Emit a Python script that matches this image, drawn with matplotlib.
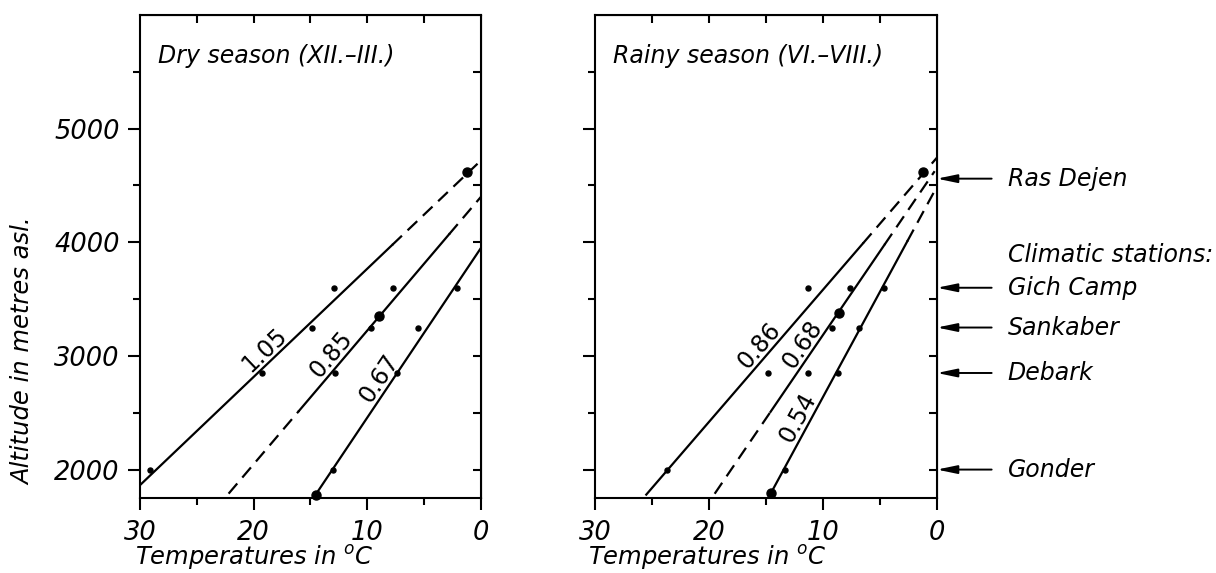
#!/usr/bin/env python3
import numpy as np
import matplotlib.pyplot as plt

plt.rcParams['font.family'] = 'DejaVu Sans'
plt.rcParams['font.style'] = 'italic'
plt.rcParams['mathtext.fontset'] = 'dejavusans'

# dry season (XII.-III.): station means, deg C vs altitude (m)
dry_temp = [29.1, 19.3, 14.9, 12.9, 12.8, 9.7, 7.7, 13.0, 7.4, 5.5, 2.1]
dry_alt = [2000, 2850, 3250, 3600, 2850, 3250, 3600, 2000, 2850, 3250, 3600]
dry_big_temp = [14.5, 9.0, 1.2]
dry_big_alt = [1780, 3350, 4620]
dry_grad = [1.05, 0.85, 0.67]          # deg C per 100 m
dry_alt0 = [4720, 4400, 3950]          # altitude of the 0 deg C crossing
dry_span = [(30.0, 0.3), (22.2, 0.0), (14.5, 0.0)]
dry_solid = [(30.0, 7.8), (16.0, 2.8), (14.5, 0.0)]
dry_label_t = [18.3, 12.4, 8.1]

# rainy season (VI.-VIII.)
rain_temp = [23.7, 14.8, 11.3, 11.3, 7.6, 9.2, 13.3, 8.7, 6.8, 4.6]
rain_alt = [2000, 2850, 3600, 2850, 3600, 3250, 2000, 2850, 3250, 3600]
rain_big_temp = [14.6, 8.6, 1.2]
rain_big_alt = [1790, 3380, 4620]
rain_grad = [0.86, 0.68, 0.54]
rain_alt0 = [4745, 4655, 4490]
rain_span = [(25.5, 0.0), (19.5, 0.2), (14.6, 0.3)]
rain_solid = [(25.5, 6.5), (14.6, 4.6), (14.6, 2.6)]
rain_label_t = [14.8, 10.95, 11.25]

stations = ['Ras Dejen', 'Gich Camp', 'Sankaber', 'Debark', 'Gonder']
station_alt = [4560, 3600, 3250, 2850, 2000]

DASH = (0, (6, 3.5))
LW = 1.6


def draw_panel(ax, title, temp, alt, big_temp, big_alt,
               grads, alt0s, spans, solids, label_t, ylabels):
    ax.set_xlim(30, 0)
    ax.set_ylim(1750, 6000)
    for sp in ax.spines.values():
        sp.set_linewidth(1.5)

    for g, a0, (ta, tb), (sa, sb), tl in zip(grads, alt0s, spans, solids, label_t):
        f = lambda t: a0 - t * 100.0 / g
        if ta > sa:
            ax.plot([ta, sa], [f(ta), f(sa)], color='k', lw=LW, linestyle=DASH)
        ax.plot([sa, sb], [f(sa), f(sb)], color='k', lw=LW)
        if sb > tb:
            ax.plot([sb, tb], [f(sb), f(tb)], color='k', lw=LW, linestyle=DASH)
        ang = np.degrees(np.arctan2(100.0 / g, -1.0))
        ax.text(tl, f(tl), '%.2f' % g, rotation=ang, transform_rotates_text=True,
                rotation_mode='anchor', ha='center', va='bottom', fontsize=17,
                fontstyle='normal')

    ax.plot(temp, alt, 'o', color='k', ms=3.6, clip_on=False)
    ax.plot(big_temp, big_alt, 'o', color='k', ms=6.5, clip_on=False)

    ax.text(0.053, 0.915, title, transform=ax.transAxes, fontsize=17,
            ha='left', va='center')

    ax.set_xticks([30, 20, 10, 0])
    ax.set_xticks([25, 15, 5], minor=True)
    ax.set_yticks([2000, 3000, 4000, 5000])
    ax.set_yticks([2500, 3500, 4500, 5500], minor=True)
    ax.tick_params(which='major', direction='out', length=8.5, width=1.5,
                   labelsize=18.5, pad=6)
    ax.tick_params(which='minor', direction='out', length=5, width=1.5)
    ax.tick_params(axis='x', pad=7)
    if not ylabels:
        ax.set_yticklabels([])

    top = ax.secondary_xaxis('top')
    top.set_xticks([25, 20, 15, 10, 5])
    top.tick_params(direction='in', length=5.5, width=1.5, labeltop=False)
    right = ax.secondary_yaxis('right')
    right.set_yticks([2000, 2500, 3000, 3500, 4000, 4500, 5000, 5500])
    right.tick_params(direction='in', length=6, width=1.5, labelright=False)


fig = plt.figure(figsize=(12.16, 5.73), dpi=100)
ax1 = fig.add_axes([0.1151, 0.1309, 0.2804, 0.8429])
ax2 = fig.add_axes([0.4893, 0.1309, 0.2812, 0.8429])

draw_panel(ax1, 'Dry season (XII.\u2013III.)', dry_temp, dry_alt,
           dry_big_temp, dry_big_alt, dry_grad, dry_alt0, dry_span,
           dry_solid, dry_label_t, True)
draw_panel(ax2, 'Rainy season (VI.\u2013VIII.)', rain_temp, rain_alt,
           rain_big_temp, rain_big_alt, rain_grad, rain_alt0, rain_span,
           rain_solid, rain_label_t, False)

# station markers on the right of the rainy-season panel
for name, a in zip(stations, station_alt):
    ax2.annotate('', xy=(0, a), xytext=(-4.8, a), annotation_clip=False,
                 arrowprops=dict(arrowstyle='-|>,head_length=1.2,head_width=0.25',
                                 color='k', lw=1.4, shrinkA=0, shrinkB=0))
    ax2.text(-6.2, a, name, ha='left', va='center', fontsize=17, clip_on=False)
ax2.text(-6.2, 3886, 'Climatic stations:', ha='left', va='center',
         fontsize=17, clip_on=False)

fig.text(0.0189, 0.3874, 'Altitude in metres asl.', rotation=90,
         ha='center', va='center', fontsize=17.5)
fig.text(0.111, 0.0262, 'Temperatures in $^{\\mathit{o}}$C', ha='left',
         va='center', fontsize=17.5)
fig.text(0.4836, 0.0262, 'Temperatures in $^{\\mathit{o}}$C', ha='left',
         va='center', fontsize=17.5)

fig.savefig('out.png', dpi=100)
